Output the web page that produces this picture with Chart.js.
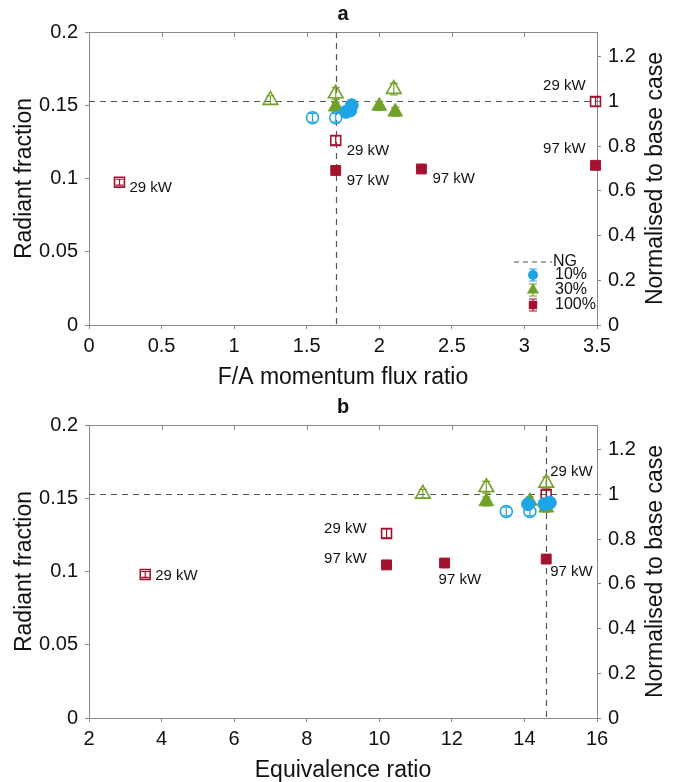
<!DOCTYPE html>
<html>
<head>
<meta charset="utf-8">
<script src="https://cdn.jsdelivr.net/npm/chart.js@4.4.1/dist/chart.umd.min.js"></script>
<style>
  html, body { margin: 0; padding: 0; background: #fff; }
  .panel { width: 674px; height: 391px; }
  canvas { display: block; }
</style>
</head>
<body>
<div class="panel"><canvas id="chartA" width="674" height="391"></canvas></div>
<div class="panel"><canvas id="chartB" width="674" height="391"></canvas></div>
<script>
// NG base case radiant fraction (right axis = value / ngBase)
const ngBase = 0.1527;

// tick labels
const yTicks = [0, 0.05, 0.1, 0.15, 0.2];
const y2Ticks = [0, 0.2, 0.4, 0.6, 0.8, 1, 1.2];
const aXTicks = [0, 0.5, 1, 1.5, 2, 2.5, 3, 3.5];
const bXTicks = [2, 4, 6, 8, 10, 12, 14, 16];

// panel a : F/A momentum flux ratio
const aVLine = 1.70;
const a10oX = [1.54, 1.70],        a10oY = [0.1415, 0.1415],        a10oE = [0.003, 0.003];
const a10fX = [1.77, 1.80, 1.81],  a10fY = [0.1455, 0.1465, 0.150], a10fE = [0.003, 0.003, 0.003];
const a30oX = [1.25, 1.70, 2.10],  a30oY = [0.1535, 0.158, 0.161],  a30oE = [0.003, 0.004, 0.004];
const a30fX = [1.70, 2.00, 2.11],  a30fY = [0.149, 0.1495, 0.1455], a30fE = [0.003, 0.003, 0.003];
const a100oX = [0.21, 1.70, 3.49], a100oY = [0.0975, 0.126, 0.1525], a100oE = [0.002, 0.003, 0.003];
const a100fX = [1.70, 2.29, 3.49], a100fY = [0.1055, 0.1065, 0.109], a100fE = [0.002, 0.002, 0.002];

// panel b : equivalence ratio
const bVLine = 14.6;
const b10oX = [13.5, 14.15],         b10oY = [0.141, 0.141],          b10oE = [0.003, 0.003];
const b10fX = [14.1, 14.55, 14.7],   b10fY = [0.146, 0.146, 0.147],   b10fE = [0.003, 0.003, 0.003];
const b30oX = [11.2, 12.95, 14.6],   b30oY = [0.153, 0.1575, 0.1605], b30oE = [0.003, 0.004, 0.004];
const b30fX = [12.95, 14.15, 14.6],  b30fY = [0.1478, 0.148, 0.1435], b30fE = [0.003, 0.003, 0.003];
const b100oX = [3.55, 10.2, 14.6],   b100oY = [0.098, 0.126, 0.1525], b100oE = [0.002, 0.003, 0.003];
const b100fX = [10.2, 11.8, 14.6],   b100fY = [0.1045, 0.1058, 0.1085], b100fE = [0.002, 0.002, 0.002];

const powerOpen = '29 kW', powerFill = '97 kW';
const legendNames = ['NG', '10%', '30%', '100%'];

const FONT = '"Liberation Sans", Arial, Helvetica, sans-serif';
const C10 = '#1FA5E3', C30 = '#72A12A', C100 = '#A3122F';
Chart.defaults.font.family = FONT;

function series(label, xs, ys, errs, color, style, radius, filled) {
  return {
    label,
    data: xs.map((x, i) => ({ x, y: ys[i] })),
    errors: errs,
    showLine: false,
    clip: false,
    pointStyle: style,
    pointRadius: radius,
    pointHoverRadius: radius,
    pointBorderColor: color,
    pointBackgroundColor: filled ? color : 'rgba(255,255,255,0)',
    pointBorderWidth: filled ? 1 : 1.6
  };
}

function fmt(v) { return String(parseFloat(Number(v).toFixed(2))); }

function marker(ctx, style, x, y, r, color) {
  ctx.fillStyle = color;
  ctx.beginPath();
  if (style === 'circle') ctx.arc(x, y, r, 0, Math.PI * 2);
  else if (style === 'triangle') {
    ctx.moveTo(x, y - r); ctx.lineTo(x + r * 0.87, y + r * 0.5); ctx.lineTo(x - r * 0.87, y + r * 0.5);
    ctx.closePath();
  } else ctx.rect(x - r * 0.7, y - r * 0.7, r * 1.4, r * 1.4);
  ctx.fill();
}

const decor = {
  id: 'decor',
  beforeDatasetsDraw(chart, args, o) {
    const { ctx, chartArea: ca, scales: { x, y } } = chart;
    ctx.save();
    ctx.strokeStyle = '#555'; ctx.lineWidth = 1.2; ctx.setLineDash([6, 5]);
    const yr = Math.round(y.getPixelForValue(ngBase)) + 0.5;
    const xr = Math.round(x.getPixelForValue(o.vLine)) + 0.5;
    ctx.beginPath();
    ctx.moveTo(ca.left, yr); ctx.lineTo(ca.right, yr);
    ctx.moveTo(xr, ca.top); ctx.lineTo(xr, ca.bottom);
    ctx.stroke();
    ctx.setLineDash([]);
    // error bars
    chart.data.datasets.forEach((ds, di) => {
      if (!ds.errors) return;
      const meta = chart.getDatasetMeta(di);
      ctx.strokeStyle = ds.pointBorderColor; ctx.lineWidth = 1.2;
      meta.data.forEach((pt, i) => {
        const v = ds.data[i].y, e = ds.errors[i];
        const t = y.getPixelForValue(v + e), b = y.getPixelForValue(v - e);
        ctx.beginPath();
        ctx.moveTo(pt.x, t); ctx.lineTo(pt.x, b);
        ctx.moveTo(pt.x - 4, t); ctx.lineTo(pt.x + 4, t);
        ctx.moveTo(pt.x - 4, b); ctx.lineTo(pt.x + 4, b);
        ctx.stroke();
      });
    });
    ctx.restore();
  },
  afterDraw(chart, args, o) {
    const { ctx, chartArea: ca, scales: { x } } = chart;
    ctx.save();
    // top frame with inward ticks
    ctx.strokeStyle = '#888'; ctx.lineWidth = 1;
    ctx.beginPath();
    ctx.moveTo(ca.left, ca.top + 0.5); ctx.lineTo(ca.right, ca.top + 0.5);
    o.xTicks.forEach(v => {
      const px = Math.round(x.getPixelForValue(v)) + 0.5;
      ctx.moveTo(px, ca.top); ctx.lineTo(px, ca.top + 5);
    });
    ctx.stroke();

    // titles
    ctx.fillStyle = '#111';
    ctx.textAlign = 'center'; ctx.textBaseline = 'middle';
    ctx.font = 'bold 20px ' + FONT;
    ctx.fillText(o.letter, (ca.left + ca.right) / 2, ca.top - 18);
    ctx.font = '23px ' + FONT;
    ctx.fillText(o.xTitle, (ca.left + ca.right) / 2, ca.bottom + 53);
    const cy = (ca.top + ca.bottom) / 2;
    ctx.save(); ctx.translate(25, cy); ctx.rotate(-Math.PI / 2);
    ctx.fillText('Radiant fraction', 0, 0); ctx.restore();
    ctx.save(); ctx.translate(656, cy); ctx.rotate(-Math.PI / 2);
    ctx.fillText('Normalised to base case', 0, 0); ctx.restore();

    // power annotations
    ctx.font = '15px ' + FONT;
    o.notes.forEach(n => {
      const pt = chart.getDatasetMeta(n.ds).data[n.i];
      ctx.textAlign = n.align;
      ctx.fillText(n.text, pt.x + n.dx, pt.y + n.dy);
    });

    // legend
    if (o.legend) {
      const lx = ca.right, ly = ca.bottom;
      ctx.strokeStyle = '#555'; ctx.lineWidth = 1.2; ctx.setLineDash([5, 4]);
      ctx.beginPath(); ctx.moveTo(lx - 83, ly - 63); ctx.lineTo(lx - 45, ly - 63); ctx.stroke();
      ctx.setLineDash([]);
      const items = [['circle', C10, 5], ['triangle', C30, 7], ['rect', C100, 6]];
      ctx.font = '16px ' + FONT; ctx.textAlign = 'left'; ctx.fillStyle = '#111';
      ctx.fillText(legendNames[0], lx - 44, ly - 63);
      items.forEach((it, k) => {
        const my = ly - 50 + k * 15;
        ctx.strokeStyle = it[1]; ctx.lineWidth = 1.2;
        ctx.beginPath();
        ctx.moveTo(lx - 64, my - 6); ctx.lineTo(lx - 64, my + 6);
        ctx.moveTo(lx - 68, my - 6); ctx.lineTo(lx - 60, my - 6);
        ctx.moveTo(lx - 68, my + 6); ctx.lineTo(lx - 60, my + 6);
        ctx.stroke();
        marker(ctx, it[0], lx - 64, my, it[2], it[1]);
        ctx.fillStyle = '#111';
        ctx.fillText(legendNames[k + 1], lx - 42, my);
      });
    }
    ctx.restore();
  }
};

function makePanel(id, cfg) {
  const tickFont = { family: FONT, size: 20 };
  const axisLine = { display: true, color: '#888', width: 1 };
  const tickMarks = { display: true, drawOnChartArea: false, drawTicks: true, tickLength: 4, color: '#888' };
  return new Chart(document.getElementById(id), {
    type: 'scatter',
    data: { datasets: cfg.datasets },
    options: {
      responsive: false,
      animation: false,
      events: [],
      layout: { padding: { top: cfg.padTop, left: 0, right: 0, bottom: 0 } },
      plugins: {
        legend: { display: false },
        tooltip: { enabled: false },
        decor: { vLine: cfg.vLine, xTicks: cfg.xTicks, letter: cfg.letter, xTitle: cfg.xTitle, notes: cfg.notes, legend: cfg.legend }
      },
      scales: {
        x: {
          type: 'linear', position: 'bottom', min: cfg.xMin, max: cfg.xMax,
          afterBuildTicks: s => { s.ticks = cfg.xTicks.map(v => ({ value: v })); },
          afterFit: s => { s.height = cfg.xAxisH; },
          ticks: { font: tickFont, color: '#111', padding: 5, autoSkip: false, maxRotation: 0, callback: fmt },
          grid: tickMarks, border: axisLine
        },
        y: {
          type: 'linear', position: 'left', min: 0, max: 0.2,
          afterBuildTicks: s => { s.ticks = yTicks.map(v => ({ value: v })); },
          afterFit: s => { s.width = 89; },
          ticks: { font: tickFont, color: '#111', padding: 7, autoSkip: false, callback: fmt },
          grid: tickMarks, border: axisLine
        },
        y2: {
          type: 'linear', position: 'right', min: 0, max: 0.2 / ngBase,
          afterBuildTicks: s => { s.ticks = y2Ticks.map(v => ({ value: v })); },
          afterFit: s => { s.width = 77; },
          ticks: { font: tickFont, color: '#111', padding: 7, autoSkip: false, callback: fmt },
          grid: tickMarks, border: axisLine
        }
      }
    },
    plugins: [decor]
  });
}

function sets(d) {
  return [
    series('10%', d[0], d[1], d[2], C10, 'circle', 6, false),
    series('10%', d[3], d[4], d[5], C10, 'circle', 6.5, true),
    series('30%', d[6], d[7], d[8], C30, 'triangle', 8.5, false),
    series('30%', d[9], d[10], d[11], C30, 'triangle', 8.5, true),
    series('100%', d[12], d[13], d[14], C100, 'rect', 7, false),
    series('100%', d[15], d[16], d[17], C100, 'rect', 7, true)
  ];
}

makePanel('chartA', {
  letter: 'a', xTitle: 'F/A momentum flux ratio', padTop: 32, xAxisH: 66,
  xMin: 0, xMax: 3.5, xTicks: aXTicks, vLine: aVLine, legend: true,
  datasets: sets([a10oX, a10oY, a10oE, a10fX, a10fY, a10fE, a30oX, a30oY, a30oE,
                  a30fX, a30fY, a30fE, a100oX, a100oY, a100oE, a100fX, a100fY, a100fE]),
  notes: [
    { ds: 4, i: 0, text: powerOpen, dx: 10, dy: 6, align: 'left' },
    { ds: 4, i: 1, text: powerOpen, dx: 11, dy: 10, align: 'left' },
    { ds: 5, i: 0, text: powerFill, dx: 11, dy: 10, align: 'left' },
    { ds: 5, i: 1, text: powerFill, dx: 11, dy: 10, align: 'left' },
    { ds: 4, i: 2, text: powerOpen, dx: -10, dy: -16, align: 'right' },
    { ds: 5, i: 2, text: powerFill, dx: -10, dy: -16, align: 'right' }
  ]
});

makePanel('chartB', {
  letter: 'b', xTitle: 'Equivalence ratio', padTop: 34, xAxisH: 64,
  xMin: 2, xMax: 16, xTicks: bXTicks, vLine: bVLine, legend: false,
  datasets: sets([b10oX, b10oY, b10oE, b10fX, b10fY, b10fE, b30oX, b30oY, b30oE,
                  b30fX, b30fY, b30fE, b100oX, b100oY, b100oE, b100fX, b100fY, b100fE]),
  notes: [
    { ds: 4, i: 0, text: powerOpen, dx: 10, dy: 1, align: 'left' },
    { ds: 4, i: 1, text: powerOpen, dx: -20, dy: -5, align: 'right' },
    { ds: 5, i: 0, text: powerFill, dx: -20, dy: -6, align: 'right' },
    { ds: 5, i: 1, text: powerFill, dx: -6, dy: 17, align: 'left' },
    { ds: 4, i: 2, text: powerOpen, dx: 4, dy: -23, align: 'left' },
    { ds: 5, i: 2, text: powerFill, dx: 4, dy: 13, align: 'left' }
  ]
});
</script>
</body>
</html>
